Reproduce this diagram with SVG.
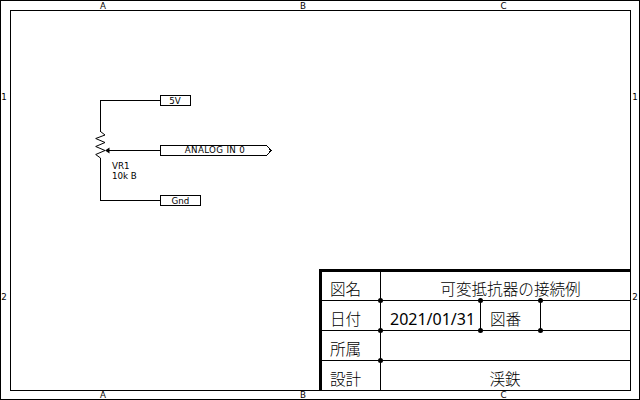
<svg xmlns="http://www.w3.org/2000/svg" width="640" height="400" viewBox="0 0 640 400">
<style>
.l{fill:none;stroke:#000;stroke-width:1;shape-rendering:crispEdges}
.w{fill:none;stroke:#000;stroke-width:1}
.t{font-family:"DejaVu Sans","Liberation Sans",sans-serif;font-size:8.7px;fill:#000}
.m{text-anchor:middle}
.j{font-family:"Noto Sans CJK JP","Noto Sans",sans-serif;font-size:15.6px;font-weight:300;fill:#000}
.d{fill:#000}
.b{fill:none;stroke:#000;stroke-width:3;shape-rendering:crispEdges}
</style>
<rect width="640" height="400" fill="#fff"/>
<g id="frame">
<rect class="l" x="0.5" y="0.5" width="639" height="399"/>
<rect class="l" x="10.5" y="10.5" width="620" height="380"/>
<text class="t m" x="103" y="9">A</text><text class="t m" x="303" y="9">B</text><text class="t m" x="503.500" y="9">C</text>
<text class="t m" x="103" y="398">A</text><text class="t m" x="303" y="398">B</text><text class="t m" x="503.500" y="398">C</text>
<text class="t m" x="4" y="100">1</text><text class="t m" x="4" y="300">2</text>
<text class="t m" x="635" y="100">1</text><text class="t m" x="635" y="300">2</text>
</g>
<g id="connectors">
<path class="l" d="M100.500 132V100.500H160"/>
<path class="l" d="M100.500 158V200.500H160"/>
<path class="l" d="M108 150.500H160"/>
</g>
<g id="VR1">
<path class="w" d="M100.500 131.500L105 135L95.700 138.500L105 142.500L95.700 146.500L105 150.500L95.700 154.500L100.500 158"/>
<path class="d" d="M105 150.500L109.500 147.500V153.500Z"/>
<text class="t" x="112" y="169">VR1</text>
<text class="t" x="112" y="179">10k B</text>
</g>
<g id="port-5V">
<rect class="l" x="160.500" y="95.500" width="30" height="10"/>
<text class="t m" x="175" y="104">5V</text>
</g>
<g id="port-analog">
<path class="l" d="M160.500 145.500H266.500L271 150.500L266.500 155.500H160.500Z"/>
<text class="t m" x="215" y="153" letter-spacing=".35">ANALOG IN 0</text>
</g>
<g id="port-gnd">
<rect class="l" x="160.500" y="195.500" width="40" height="10"/>
<text class="t m" x="180.500" y="204">Gnd</text>
</g>
<g id="title-block">
<path class="b" d="M630 270.500H320.500V390"/>
<path class="l" d="M321 300.500H630M321 330.500H630M321 360.500H630M380.500 270V390M480.500 300V330M540.500 300V330"/>
<circle class="d" cx="380.500" cy="300.500" r="2.500"/><circle class="d" cx="380.500" cy="330.500" r="2.500"/><circle class="d" cx="380.500" cy="360.500" r="2.500"/>
<circle class="d" cx="480.500" cy="300.500" r="2.500"/><circle class="d" cx="480.500" cy="330.500" r="2.500"/>
<circle class="d" cx="540.500" cy="300.500" r="2.500"/><circle class="d" cx="540.500" cy="330.500" r="2.500"/>
<text class="j" x="330" y="295">図名</text>
<text class="j" x="330" y="325">日付</text>
<text class="j" x="330" y="355">所属</text>
<text class="j" x="330" y="385">設計</text>
<text class="j m" x="510.500" y="295">可変抵抗器の接続例</text>
<text x="390" y="325" font-family="Noto Sans,sans-serif" font-size="16" fill="#000">2021/01/31</text>
<text class="j" x="490" y="325">図番</text>
<text class="j m" x="505" y="385">渓鉄</text>
</g>
</svg>
